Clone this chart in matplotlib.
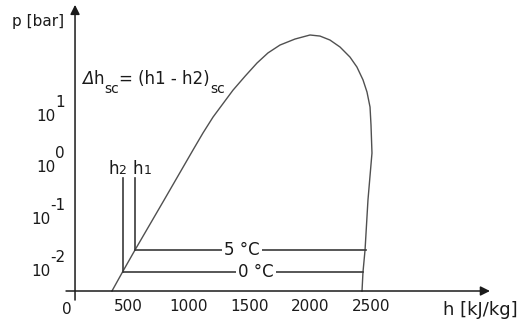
import matplotlib
matplotlib.use('Agg')
import matplotlib.pyplot as plt

# Saturation dome (h in kJ/kg, p in bar)
h_dome = [368, 459, 558, 797, 1035, 1117, 1200, 1364, 1465, 1562, 1652, 1751, 1874, 1998, 2080,
          2162, 2245, 2327, 2384, 2434, 2467, 2492, 2500, 2508, 2475, 2451, 2434, 2426]
p_dome = [0.00412, 0.0100, 0.0257, 0.237, 2.20, 4.69, 9.55, 31.6, 59.4, 106, 166, 236, 308, 369, 352,
          295, 216, 138, 88.7, 50.1, 29.1, 14.9, 6.70, 1.92, 0.237, 0.0257, 0.00955, 0.00412]

# Isotherms in the two-phase region
temps = ['5 °C', '0 °C']
p_sat = [0.0256, 0.0095]
h_liq = [558, 459]      # h1, h2
h_vap = [2459, 2434]
h_temp_label = [1440, 1553]

p_top = 0.632           # top of the h1 / h2 marker lines
x_ticks = [0, 500, 1000, 1500, 2000, 2500]
exponents = [1, 0, -1, -2]

p_axis = 10 ** -2.385   # where the h axis crosses
h_axis = 64             # where the p axis crosses

plt.rcParams['font.family'] = 'DejaVu Sans'
fig = plt.figure(figsize=(5.23, 3.29), dpi=100)
ax = fig.add_axes([0, 0, 1, 1])
ax.set_axis_off()
ax.set_yscale('log')
ax.set_xlim(-553.5, 3751)
ax.set_ylim(10 ** -3.12, 10 ** 3.244)

ink = '#1a1a1a'
line_c = '#3a3a3a'

# axes with arrows
ax.annotate('', xy=(3479, p_axis), xytext=(-10, p_axis),
            arrowprops=dict(arrowstyle='-|>', color=ink, lw=1.1, mutation_scale=14, shrinkA=0, shrinkB=0))
ax.annotate('', xy=(h_axis, 10 ** 3.15), xytext=(h_axis, 10 ** -2.56),
            arrowprops=dict(arrowstyle='-|>', color=ink, lw=1.1, mutation_scale=14, shrinkA=0, shrinkB=0))

# dome
ax.plot(h_dome, p_dome, color='#505050', lw=1.0)

# isotherms with labels
for t, p, hl, hv, hx in zip(temps, p_sat, h_liq, h_vap, h_temp_label):
    ax.plot([hl, hv], [p, p], color=line_c, lw=1.2)
    ax.text(hx, p, t, ha='center', va='center', fontsize=12, color=ink,
            bbox=dict(facecolor='white', edgecolor='none', pad=1.5))

# h1 / h2 markers
for hl, p in zip(h_liq, p_sat):
    ax.plot([hl, hl], [p, p_top], color=line_c, lw=1.2)
ax.text(336, 10 ** -0.025, 'h', ha='left', va='center', fontsize=12, color=ink)
ax.text(420, 10 ** -0.06, '2', ha='left', va='center', fontsize=9, color=ink)
ax.text(541, 10 ** -0.025, 'h', ha='left', va='center', fontsize=12, color=ink)
ax.text(625, 10 ** -0.06, '1', ha='left', va='center', fontsize=9, color=ink)

# x tick labels
for x in x_ticks:
    y = 10 ** -2.74 if x == 0 else 10 ** -2.68
    ax.text(x, y, str(x), ha='center', va='center', fontsize=11, color=ink)

# y tick labels, 10 with a raised exponent of the same size
for e in exponents:
    hx = -100 if e >= 0 else -140
    ax.text(hx, 10 ** e, '10', ha='right', va='center', fontsize=11, color=ink)
    ax.text(hx, 10 ** (e + 0.27), str(e), ha='left', va='center', fontsize=11, color=ink)

# axis titles
ax.text(-455, 10 ** 2.83, 'p [bar]', ha='left', va='center', fontsize=11, color=ink)
ax.text(3092, 10 ** -2.76, 'h [kJ/kg]', ha='left', va='center', fontsize=13, color=ink)

# equation, built piece by piece: italic delta, big lowered subscripts
prev = ax.text(122, 10 ** 1.716, 'Δ', ha='left', va='center', fontsize=12,
               style='italic', color=ink)
main = prev
for s, sub in [('h', False), ('sc', True), ('= (h1 - h2)', False), ('sc', True)]:
    if sub:
        t = ax.annotate(s, xy=(1, 0.5), xycoords=(prev, main), xytext=(0.3, -7),
                        textcoords='offset points', ha='left', va='center', fontsize=10, color=ink)
    else:
        t = ax.annotate(s, xy=(1, 0.5), xycoords=(prev, main), ha='left', va='center',
                        fontsize=12, color=ink)
    prev = t

fig.savefig('out.png', dpi=100)
